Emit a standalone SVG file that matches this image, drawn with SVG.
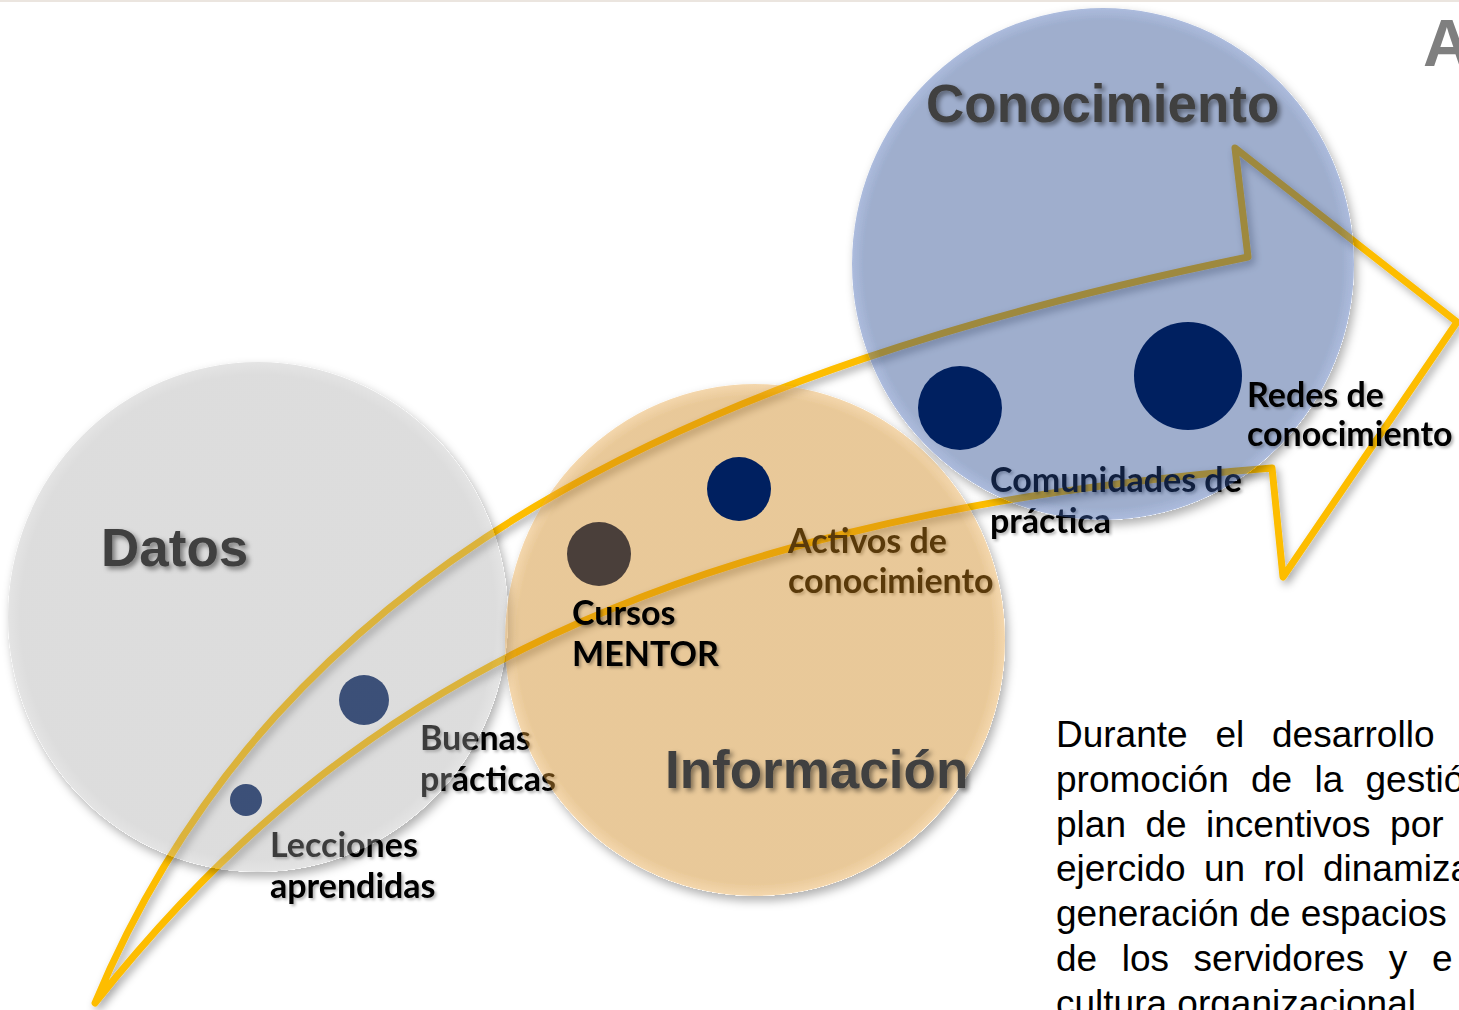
<svg xmlns="http://www.w3.org/2000/svg" width="1459" height="1010" viewBox="0 0 1459 1010">
<defs>
<filter id="sh" x="-20%" y="-20%" width="140%" height="140%"><feDropShadow dx="3" dy="4" stdDeviation="4" flood-color="#000" flood-opacity="0.35"/></filter>
<filter id="csh" x="-10%" y="-10%" width="125%" height="125%">
<feComponentTransfer in="SourceAlpha" result="a"><feFuncA type="linear" slope="20"/></feComponentTransfer>
<feGaussianBlur in="a" stdDeviation="5"/>
<feOffset dx="3" dy="5" result="b"/>
<feComposite in="b" in2="a" operator="out" result="o"/>
<feFlood flood-color="#000" flood-opacity="0.3"/>
<feComposite in2="o" operator="in" result="s"/>
<feMerge><feMergeNode in="s"/><feMergeNode in="SourceGraphic"/></feMerge>
</filter>
<filter id="tsh" x="-10%" y="-20%" width="120%" height="140%"><feDropShadow dx="3" dy="3" stdDeviation="2.5" flood-color="#000" flood-opacity="0.45"/></filter>
<filter id="lsh" x="-10%" y="-20%" width="120%" height="140%"><feDropShadow dx="2" dy="2" stdDeviation="1.5" flood-color="#000" flood-opacity="0.3"/></filter>
<radialGradient id="gGray"><stop offset="0.95" stop-color="#a2a2a2"/><stop offset="1" stop-color="#b6b6b6"/></radialGradient>
<radialGradient id="gOr"><stop offset="0.95" stop-color="#cc8317"/><stop offset="1" stop-color="#e6a444"/></radialGradient>
<radialGradient id="gBl"><stop offset="0.95" stop-color="#23478d"/><stop offset="1" stop-color="#4365b2"/></radialGradient>
<style>
.lbl{font-family:Lato,"Open Sans",sans-serif;font-weight:bold;font-size:34px;fill:#000}
.ttl{font-family:"Liberation Sans",Arial,sans-serif;font-weight:bold;font-size:53px;fill:#404040}
.par{font-family:"Liberation Sans",Arial,sans-serif;font-size:37px;fill:#000}
.dot{fill:#002060}
</style>
</defs>
<rect x="0" y="0" width="1459" height="1010" fill="#fff"/>
<rect x="0" y="0" width="1459" height="2" fill="#ebe5df"/>
<g id="connectors">
<path id="arrow" d="M95,1003 C280,560 700,370 1248,257 L1235,148 L1457,322 L1283,577 L1272,468 C620,520 320,720 95,1003 Z" fill="none" stroke="#fdbd00" stroke-width="7" stroke-linejoin="round" filter="url(#sh)"/>
</g>
<g id="under-labels">
<g id="n-lecciones-dot"><circle class="dot" cx="246" cy="800" r="16"/></g>
<g id="n-buenas-dot"><circle class="dot" cx="364" cy="700" r="25"/></g>
<text class="lbl" filter="url(#lsh)"><tspan x="270" y="857">Lecciones</tspan><tspan x="270" y="898">aprendidas</tspan></text>
<text class="lbl" filter="url(#lsh)"><tspan x="420" y="750">Buenas</tspan><tspan x="420" y="791">prácticas</tspan></text>
<text class="lbl" filter="url(#lsh)"><tspan x="788" y="553">Activos de</tspan><tspan x="788" y="593">conocimiento</tspan></text>
<text class="lbl" filter="url(#lsh)"><tspan x="990" y="492">Comunidades de</tspan><tspan x="990" y="533">práctica</tspan></text>
</g>
<g id="n-datos"><ellipse cx="258" cy="617" rx="250" ry="255" fill="url(#gGray)" fill-opacity="0.37" filter="url(#csh)"/></g>
<g id="n-informacion"><ellipse cx="755" cy="640" rx="250" ry="256" fill="url(#gOr)" fill-opacity="0.44" filter="url(#csh)"/></g>
<g id="n-conocimiento"><ellipse cx="1103" cy="264" rx="251" ry="256" fill="url(#gBl)" fill-opacity="0.44" filter="url(#csh)"/></g>
<g id="n-cursos"><circle cx="599" cy="554" r="32" fill="#4a3f3a"/>
<text class="lbl" filter="url(#lsh)"><tspan x="572" y="625">Cursos</tspan><tspan x="572" y="666">MENTOR</tspan></text></g>
<g id="n-activos"><circle class="dot" cx="739" cy="489" r="32"/></g>
<g id="n-comunidades"><circle class="dot" cx="960" cy="408" r="42"/></g>
<g id="n-redes"><circle class="dot" cx="1188" cy="376" r="54"/>
<text class="lbl" filter="url(#lsh)"><tspan x="1247" y="407">Redes de</tspan><tspan x="1247" y="446">conocimiento</tspan></text></g>
<g id="titles">
<text class="ttl" x="101" y="566" filter="url(#tsh)">Datos</text>
<text class="ttl" x="926" y="122" filter="url(#tsh)">Conocimiento</text>
<text class="ttl" x="665" y="788" filter="url(#tsh)">Información</text>
<text class="ttl" x="1423" y="66" font-size="66" style="fill:#7f7f7f;font-size:66px">A</text>
</g>
<g id="paragraph">
<text class="par" x="1056" y="747" word-spacing="17.5">Durante el desarrollo</text>
<text class="par" x="1056" y="792" word-spacing="12">promoción de la gestió</text>
<text class="par" x="1056" y="837" word-spacing="9.2">plan de incentivos por</text>
<text class="par" x="1056" y="881" word-spacing="8.1">ejercido un rol dinamiza</text>
<text class="par" x="1056" y="926">generación de espacios</text>
<text class="par" x="1056" y="971" word-spacing="14.3">de los servidores y e</text>
<text class="par" x="1056" y="1016">cultura organizacional</text>
</g>
</svg>
